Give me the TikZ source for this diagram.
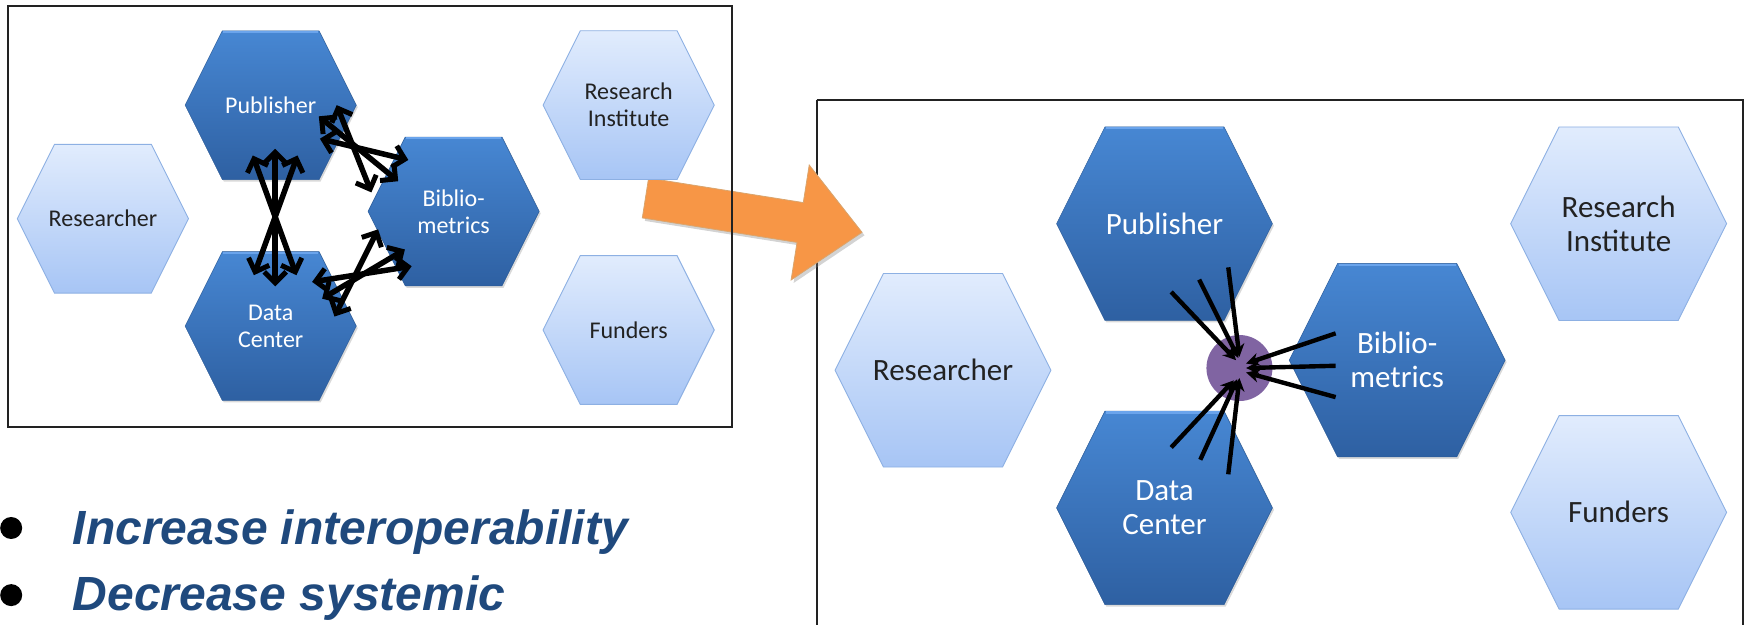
\documentclass[tikz,border=0pt]{standalone}
\usepackage{fontspec}
\setmainfont{Carlito}
\newfontfamily\bulletfont{Liberation Sans}
\usetikzlibrary{arrows.meta,calc,shadows}
\definecolor{hdTop}{HTML}{4787D3}
\definecolor{hdBot}{HTML}{2E60A2}
\definecolor{hdEdge}{HTML}{2C5C99}
\definecolor{hdBevel}{HTML}{6AA4EC}
\definecolor{hlTop}{HTML}{E1ECFD}
\definecolor{hlBot}{HTML}{A7C5F5}
\definecolor{hlEdge}{HTML}{8DB0E3}
\definecolor{labelgray}{HTML}{222222}
\definecolor{hubpurple}{HTML}{8064A2}
\definecolor{arrorange}{HTML}{F79646}
\definecolor{arredge}{HTML}{D9A56E}
\definecolor{bulletblue}{HTML}{1F497D}
\definecolor{framegray}{HTML}{222222}

% #1 fill style, #2 label style, #3 name, #4 cx, #5 cy, #6 w, #7 h, #8 text
\newcommand{\hexnode}[8]{%
  \pgfmathsetmacro\hxa{#4-#6/2}%
  \pgfmathsetmacro\hxb{#4-#6/2+0.25*min(#6,#7)}%
  \pgfmathsetmacro\hxc{#4+#6/2-0.25*min(#6,#7)}%
  \pgfmathsetmacro\hxd{#4+#6/2}%
  \pgfmathsetmacro\hyt{#5-#7/2}%
  \pgfmathsetmacro\hyb{#5+#7/2}%
  \path[#1] (\hxa,#5) -- (\hxb,\hyt) -- (\hxc,\hyt) -- (\hxd,#5) -- (\hxc,\hyb) -- (\hxb,\hyb) -- cycle;
  \node[#2] (#3) at (#4,#5) {#8};%
}
\newcommand{\hexbevel}{\draw[bevelline] (\hxb+1,\hyt+1.2) -- (\hxc-1,\hyt+1.2);}

\begin{document}
\begin{tikzpicture}[x=1.1186pt, y=-1.1186pt,
  hexD/.style={top color=hdTop, bottom color=hdBot, draw=hdEdge, line width=0.5pt,
    drop shadow={shadow xshift=1.5pt, shadow yshift=-2pt, opacity=0.3}},
  hexL/.style={top color=hlTop, bottom color=hlBot, draw=hlEdge, line width=0.9pt},
  bevelline/.style={draw=hdBevel, line width=2.2pt},
  labsmall/.style={font=\fontsize{24}{27}\selectfont, align=center, inner sep=0pt},
  labbig/.style={font=\fontsize{31}{34}\selectfont, align=center, inner sep=0pt},
  labDs/.style={labsmall, text=white},
  labLs/.style={labsmall, text=labelgray},
  labDb/.style={labbig, text=white},
  labLb/.style={labbig, text=labelgray},
  frameline/.style={draw=framegray, line width=1.8pt},
  biarrow/.style={draw=black, line width=5.5pt,
    {Straight Barb[length=11pt,width=22pt,line width=5pt]}-{Straight Barb[length=11pt,width=22pt,line width=5pt]}},
  hubarrow/.style={draw=black, line width=4.4pt, -{Stealth[length=13pt,width=13pt]}},
  bigarrow/.style={fill=arrorange, draw=arredge, line width=0.8pt,
    drop shadow={shadow xshift=2.5pt, shadow yshift=-3pt, opacity=0.35}},
  bulletdot/.style={circle, fill=black, minimum size=22pt, inner sep=0pt},
  bullettext/.style={anchor=base west, inner sep=0pt, text=bulletblue,
    font=\bulletfont\bfseries\itshape\fontsize{48}{58}\selectfont}
]
\useasboundingbox (0,0) rectangle (1568,558);
\clip (0,0) rectangle (1568,558);

% ---------- right panel ----------
\draw[frameline] (730,89.5) -- (1558,89.5) -- (1558,600) (730,89.5) -- (730,600);

\hexnode{hexL}{labLb}{rRes}{843}{331}{193}{173}{Researcher}
\hexnode{hexD}{labDb}{rPub}{1041}{200}{193}{173}{Publisher}
\hexbevel
\hexnode{hexD}{labDb}{rDat}{1041}{454}{193}{173}{Data\\Center}
\hexbevel
\hexnode{hexD}{labDb}{rBib}{1249}{322}{193}{173}{Biblio-\\metrics}
\hexbevel
\hexnode{hexL}{labLb}{rRI}{1447}{200}{193}{173}{Research\\Institute}
\hexnode{hexL}{labLb}{rFun}{1447}{458}{193}{173}{Funders}

\node[circle, fill=hubpurple, minimum size=66pt, inner sep=0pt] (hub) at (1108,329) {};

\coordinate (ps1) at (1047,261); \coordinate (pe1) at (1105,322);
\coordinate (ps2) at (1072,250); \coordinate (pe2) at (1107,320);
\coordinate (ps3) at (1098,239); \coordinate (pe3) at (1108,319);
\coordinate (bs1) at (1194,298); \coordinate (be1) at (1114,325);
\coordinate (bs2) at (1194,327); \coordinate (be2) at (1114,329);
\coordinate (bs3) at (1194,355); \coordinate (be3) at (1114,333);
\coordinate (ds1) at (1047,400); \coordinate (de1) at (1103,340);
\coordinate (ds2) at (1073,411); \coordinate (de2) at (1106,339);
\coordinate (ds3) at (1098,424); \coordinate (de3) at (1108,338);
\foreach \a/\b in {ps1/pe1,ps2/pe2,ps3/pe3,bs1/be1,bs2/be2,bs3/be3,ds1/de1,ds2/de2,ds3/de3}
  \draw[hubarrow] (\a) -- (\b);

% ---------- transition arrow ----------
\path[bigarrow] (579.8,159.2) -- (718.1,181.1) -- (723.4,147.5) -- (770.6,207.7)
  -- (707.2,250.3) -- (712.5,216.7) -- (574.2,194.8) -- cycle;

% ---------- left panel ----------
\draw[frameline] (7.5,5.5) rectangle (654.5,381.5);

\hexnode{hexL}{labLs}{lRes}{92}{195.5}{153}{133}{Researcher}
\hexnode{hexD}{labDs}{lPub}{242}{94}{153}{133}{Publisher}
\hexbevel
\hexnode{hexD}{labDs}{lDat}{242}{291.5}{153}{133}{Data\\Center}
\hexbevel
\hexnode{hexD}{labDs}{lBib}{405.5}{189}{153}{133}{Biblio-\\metrics}
\hexbevel
\hexnode{hexL}{labLs}{lRI}{562}{94}{153}{133}{Research\\Institute}
\hexnode{hexL}{labLs}{lFun}{562}{295}{153}{133}{Funders}

% Publisher <-> Data Center
\coordinate (a1) at (226,139); \coordinate (a2) at (265,246);
\coordinate (a3) at (246,133); \coordinate (a4) at (246,256);
\coordinate (a5) at (266,139); \coordinate (a6) at (227,246);
% Publisher <-> Bibliometrics
\coordinate (b1) at (286,124); \coordinate (b2) at (365,143);
\coordinate (b3) at (285,104); \coordinate (b4) at (356,162);
\coordinate (b5) at (301,94);  \coordinate (b6) at (332,172);
% Data Center <-> Bibliometrics
\coordinate (c1) at (279,252); \coordinate (c2) at (368,238);
\coordinate (c3) at (288,267); \coordinate (c4) at (362,223);
\coordinate (c5) at (299,283); \coordinate (c6) at (338,205);
\foreach \a/\b in {a1/a2,a3/a4,a5/a6,b1/b2,b3/b4,b5/b6,c1/c2,c3/c4,c5/c6}
  \draw[biarrow] (\a) -- (\b);

% ---------- bullets ----------
\node[bulletdot] (dot1) at (10,472) {};
\node[bulletdot] (dot2) at (10,532) {};
\node[bullettext] (txt1) at (65,486.5) {Increase interoperability};
\node[bullettext] (txt2) at (65,546) {Decrease systemic};
\end{tikzpicture}
\end{document}
